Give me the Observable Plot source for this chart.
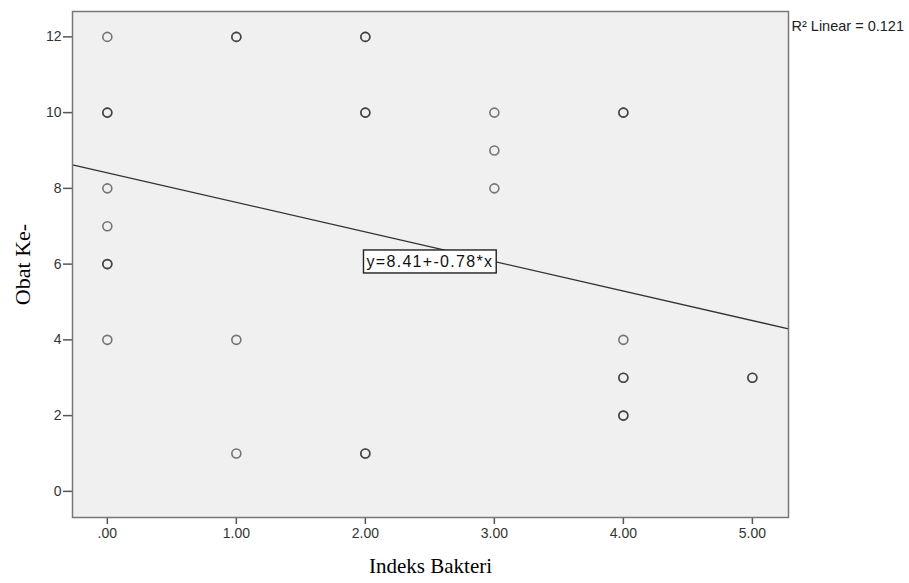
<!DOCTYPE html>
<html><head><meta charset="utf-8">
<script src="https://cdn.jsdelivr.net/npm/d3@7"></script>
<script src="https://cdn.jsdelivr.net/npm/@observablehq/plot@0.6"></script>
<style>body{margin:0;background:#fff}</style>
</head><body><div id="chart"></div>
<script>
// Data (duplicated entries = overlapping observations, drawn darker)
const indeksBakteri = [0,0,0,0,0,0,0,0, 1,1,1,1, 2,2,2,2,2,2, 3,3,3, 4,4,4,4,4,4,4, 5,5];
const obatKe        = [12,10,10,8,7,6,6,4, 12,12,4,1, 12,12,10,10,1,1, 10,9,8, 10,10,4,3,3,2,2, 3,3];
const intercept = 8.41;
const slope = -0.78;
const r2 = 0.121;
const xTicks = [0,1,2,3,4,5];
const yTicks = [0,2,4,6,8,10,12];
const xTitle = "Indeks Bakteri";
const yTitle = "Obat Ke-";

const points = indeksBakteri.map((x, i) => ({x, y: obatKe[i]}));
const xDomain = [-0.27, 5.28];
const yDomain = [-0.69, 12.67];
const fit = xDomain.map(x => ({x, y: intercept + slope * x}));

const fmtX = d => d === 0 ? ".00" : d.toFixed(2);
const sans = "'Liberation Sans', Arial, sans-serif";
const serif = "'Liberation Serif', 'Times New Roman', serif";

const chart = Plot.plot({
  width: 909,
  height: 583,
  marginLeft: 72,
  marginRight: 121,
  marginTop: 11,
  marginBottom: 66,
  style: {fontFamily: sans, fontSize: "14px", color: "#333", background: "#fff", overflow: "visible"},
  x: {domain: xDomain},
  y: {domain: yDomain},
  marks: [
    Plot.frame({fill: "#f0f0f0"}),
    Plot.axisX({ticks: xTicks, tickFormat: fmtX, tickSize: 7, tickPadding: 4, label: null, stroke: "#555", strokeWidth: 1.5, fontSize: 14}),
    Plot.axisY({ticks: yTicks, tickSize: 9, tickPadding: 2, label: null, stroke: "#555", strokeWidth: 1.5, fontSize: 14}),
    Plot.line(fit, {x: "x", y: "y", stroke: "#333", strokeWidth: 1.3}),
    Plot.dot(points, {x: "x", y: "y", r: 4.5, stroke: "#222", strokeOpacity: 0.6, strokeWidth: 1.6, fill: "none"}),
    Plot.text([`y=${intercept}+${slope}*x`], {x: 2.5, y: 6.06, fontSize: 16, fill: "#111", fontFamily: sans}),
    Plot.text([`R² Linear = ${r2}`], {frameAnchor: "top-right", dx: 3, dy: 9, textAnchor: "start", fontSize: 14.5, fill: "#222", fontFamily: sans}),
    Plot.text([xTitle], {frameAnchor: "bottom", dy: 49, textAnchor: "middle", lineAnchor: "middle", fontSize: 21, fill: "#000", fontFamily: serif}),
    Plot.text([yTitle], {frameAnchor: "left", dx: -50, rotate: -90, textAnchor: "middle", lineAnchor: "middle", fontSize: 22, fill: "#000", fontFamily: serif}),
    Plot.frame({stroke: "#777", strokeWidth: 1.5})
  ]
});
document.getElementById("chart").appendChild(chart);

// box around the equation label
for (const t of chart.querySelectorAll("text")) {
  if (t.textContent.startsWith("y=")) {
    t.style.letterSpacing = "1.3px";
    const b = t.getBBox();
    const padX = 3, padY = 3;
    const rect = document.createElementNS("http://www.w3.org/2000/svg", "rect");
    rect.setAttribute("x", b.x - padX);
    rect.setAttribute("y", b.y - padY);
    rect.setAttribute("width", b.width + 2 * padX);
    rect.setAttribute("height", b.height + 2 * padY);
    rect.setAttribute("fill", "#fff");
    rect.setAttribute("stroke", "#222");
    rect.setAttribute("stroke-width", "1.4");
    if (t.getAttribute("transform")) rect.setAttribute("transform", t.getAttribute("transform"));
    t.parentNode.insertBefore(rect, t);
  }
}
</script>
</body></html>
